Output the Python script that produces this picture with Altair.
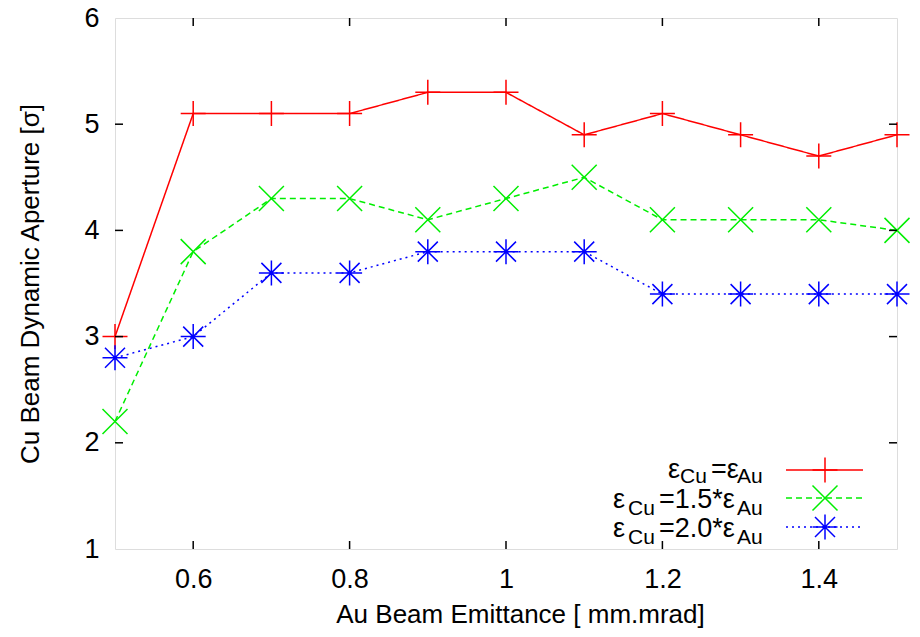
import altair as alt
import pandas as pd

# ---- data ----
x_vals = [0.5, 0.6, 0.7, 0.8, 0.9, 1.0, 1.1, 1.2, 1.3, 1.4, 1.5]
da_equal = [3.0, 5.1, 5.1, 5.1, 5.3, 5.3, 4.9, 5.1, 4.9, 4.7, 4.9]
da_15 = [2.2, 3.8, 4.3, 4.3, 4.1, 4.3, 4.5, 4.1, 4.1, 4.1, 4.0]
da_20 = [2.8, 3.0, 3.6, 3.6, 3.8, 3.8, 3.8, 3.4, 3.4, 3.4, 3.4]
series_names = ["eq", "1.5", "2.0"]
legend_mid = ["=ε", "=1.5*ε", "=2.0*ε"]
x_ticks = [0.6, 0.8, 1.0, 1.2, 1.4]
y_ticks = [1, 2, 3, 4, 5, 6]
x_title = "Au Beam Emittance [ mm.mrad]"
y_title = "Cu Beam Dynamic Aperture [σ]"

# ---- styling ----
W, H = 782, 531
FONT = "Liberation Sans"
colors = ["#ff0000", "#00ee00", "#0000ff"]
dashes = [[1, 0], [6, 4], [2, 4]]
PLUS = "M-1,0L1,0M0,-1L0,1"
XM = "M-1,-1L1,1M-1,1L1,-1"
STAR = "M-1,0L1,0M0,-1L0,1M-0.8,-0.8L0.8,0.8M-0.8,0.8L0.8,-0.8"
shapes = [PLUS, XM, STAR]

rows = []
for name, vals in zip(series_names, [da_equal, da_15, da_20]):
    for xv, yv in zip(x_vals, vals):
        rows.append({"series": name, "x": xv, "y": yv})
df = pd.DataFrame(rows)
one = pd.DataFrame({"k": [0]})

xs = alt.Scale(domain=[0.5, 1.5], nice=False, zero=False)
ys = alt.Scale(domain=[1, 6], nice=False, zero=False)
col = alt.Color("series:N", scale=alt.Scale(domain=series_names, range=colors), legend=None)

xaxis = alt.Axis(values=x_ticks, format=".1~f", ticks=False, domain=False, grid=False,
                 labelFont=FONT, labelFontSize=27, labelColor="black", labelPadding=17,
                 title=x_title, titleFont=FONT, titleFontSize=26, titleFontWeight="normal",
                 titleColor="black", titlePadding=9, titleX=405)
yaxis = alt.Axis(values=y_ticks, format="d", ticks=False, domain=False, grid=False,
                 labelFont=FONT, labelFontSize=27, labelColor="black", labelPadding=16,
                 title=y_title, titleFont=FONT, titleFontSize=26, titleFontWeight="normal",
                 titleColor="black", titlePadding=40)


def X(f):
    return alt.X(f, scale=xs, axis=xaxis)


def Y(f):
    return alt.Y(f, scale=ys, axis=yaxis)


lines = alt.Chart(df).mark_line(strokeWidth=1.5).encode(
    x=X("x:Q"), y=Y("y:Q"),
    color=col,
    strokeDash=alt.StrokeDash("series:N", scale=alt.Scale(domain=series_names, range=dashes), legend=None),
    detail="series:N",
)

points = alt.Chart(df).mark_point(filled=False, strokeWidth=1.5, size=625, opacity=1).encode(
    x=X("x:Q"), y=Y("y:Q"),
    color=col,
    shape=alt.Shape("series:N", scale=alt.Scale(domain=series_names, range=shapes), legend=None),
)

# inward ticks on all four sides
xt = pd.DataFrame({"x": x_ticks})
yt = pd.DataFrame({"y": y_ticks[1:-1]})
TL = 8
tick_layers = [
    alt.Chart(xt).mark_rule(color="black", strokeWidth=1.5).encode(
        x=X("x:Q"), y=alt.value(H), y2=alt.value(H - TL)),
    alt.Chart(xt).mark_rule(color="black", strokeWidth=1.5).encode(
        x=X("x:Q"), y=alt.value(0), y2=alt.value(TL)),
    alt.Chart(yt).mark_rule(color="black", strokeWidth=1.5).encode(
        y=Y("y:Q"), x=alt.value(0), x2=alt.value(TL)),
    alt.Chart(yt).mark_rule(color="black", strokeWidth=1.5).encode(
        y=Y("y:Q"), x=alt.value(W), x2=alt.value(W - TL)),
]

# ---- legend (inside, bottom right) ----
OX, OY = 115, 18
row_y = [470, 498, 527]
main_base = [478, 508, 537]
sub_off = [5, 7, 7]
eps_x = [668, 613, 613]
cu_x = [680, 628, 628]
mid_x = [711, 659, 659]
au_x = 737
leg_layers = []
for i in range(3):
    leg_layers.append(alt.Chart(one).mark_rule(color=colors[i], strokeWidth=1.5, strokeDash=dashes[i]).encode(
        x=alt.value(786 - OX), x2=alt.value(863 - OX), y=alt.value(row_y[i] - OY)))
    leg_layers.append(alt.Chart(one).mark_point(filled=False, strokeWidth=1.5, size=625, opacity=1,
                                                shape=shapes[i], color=colors[i]).encode(
        x=alt.value(825 - OX), y=alt.value(row_y[i] - OY)))
    pieces = [("ε", eps_x[i], main_base[i], 27), ("Cu", cu_x[i], main_base[i] + sub_off[i], 21),
              (legend_mid[i], mid_x[i], main_base[i], 27), ("Au", au_x, main_base[i] + sub_off[i], 21)]
    for txt, px, py, fs in pieces:
        leg_layers.append(alt.Chart(one).mark_text(align="left", baseline="alphabetic", font=FONT,
                                                   fontSize=fs, color="black").encode(
            x=alt.value(px - OX), y=alt.value(py - OY), text=alt.value(txt)))

chart = alt.layer(lines, points, *tick_layers, *leg_layers).properties(
    width=W, height=H,
    autosize=alt.AutoSizeParams(type="none"),
    padding={"left": OX, "top": OY, "right": 920 - OX - W, "bottom": 637 - OY - H},
).configure_view(stroke="black", strokeWidth=1.5).configure(background="white")

chart.save("out.html", embed_options={"renderer": "svg", "actions": False})
